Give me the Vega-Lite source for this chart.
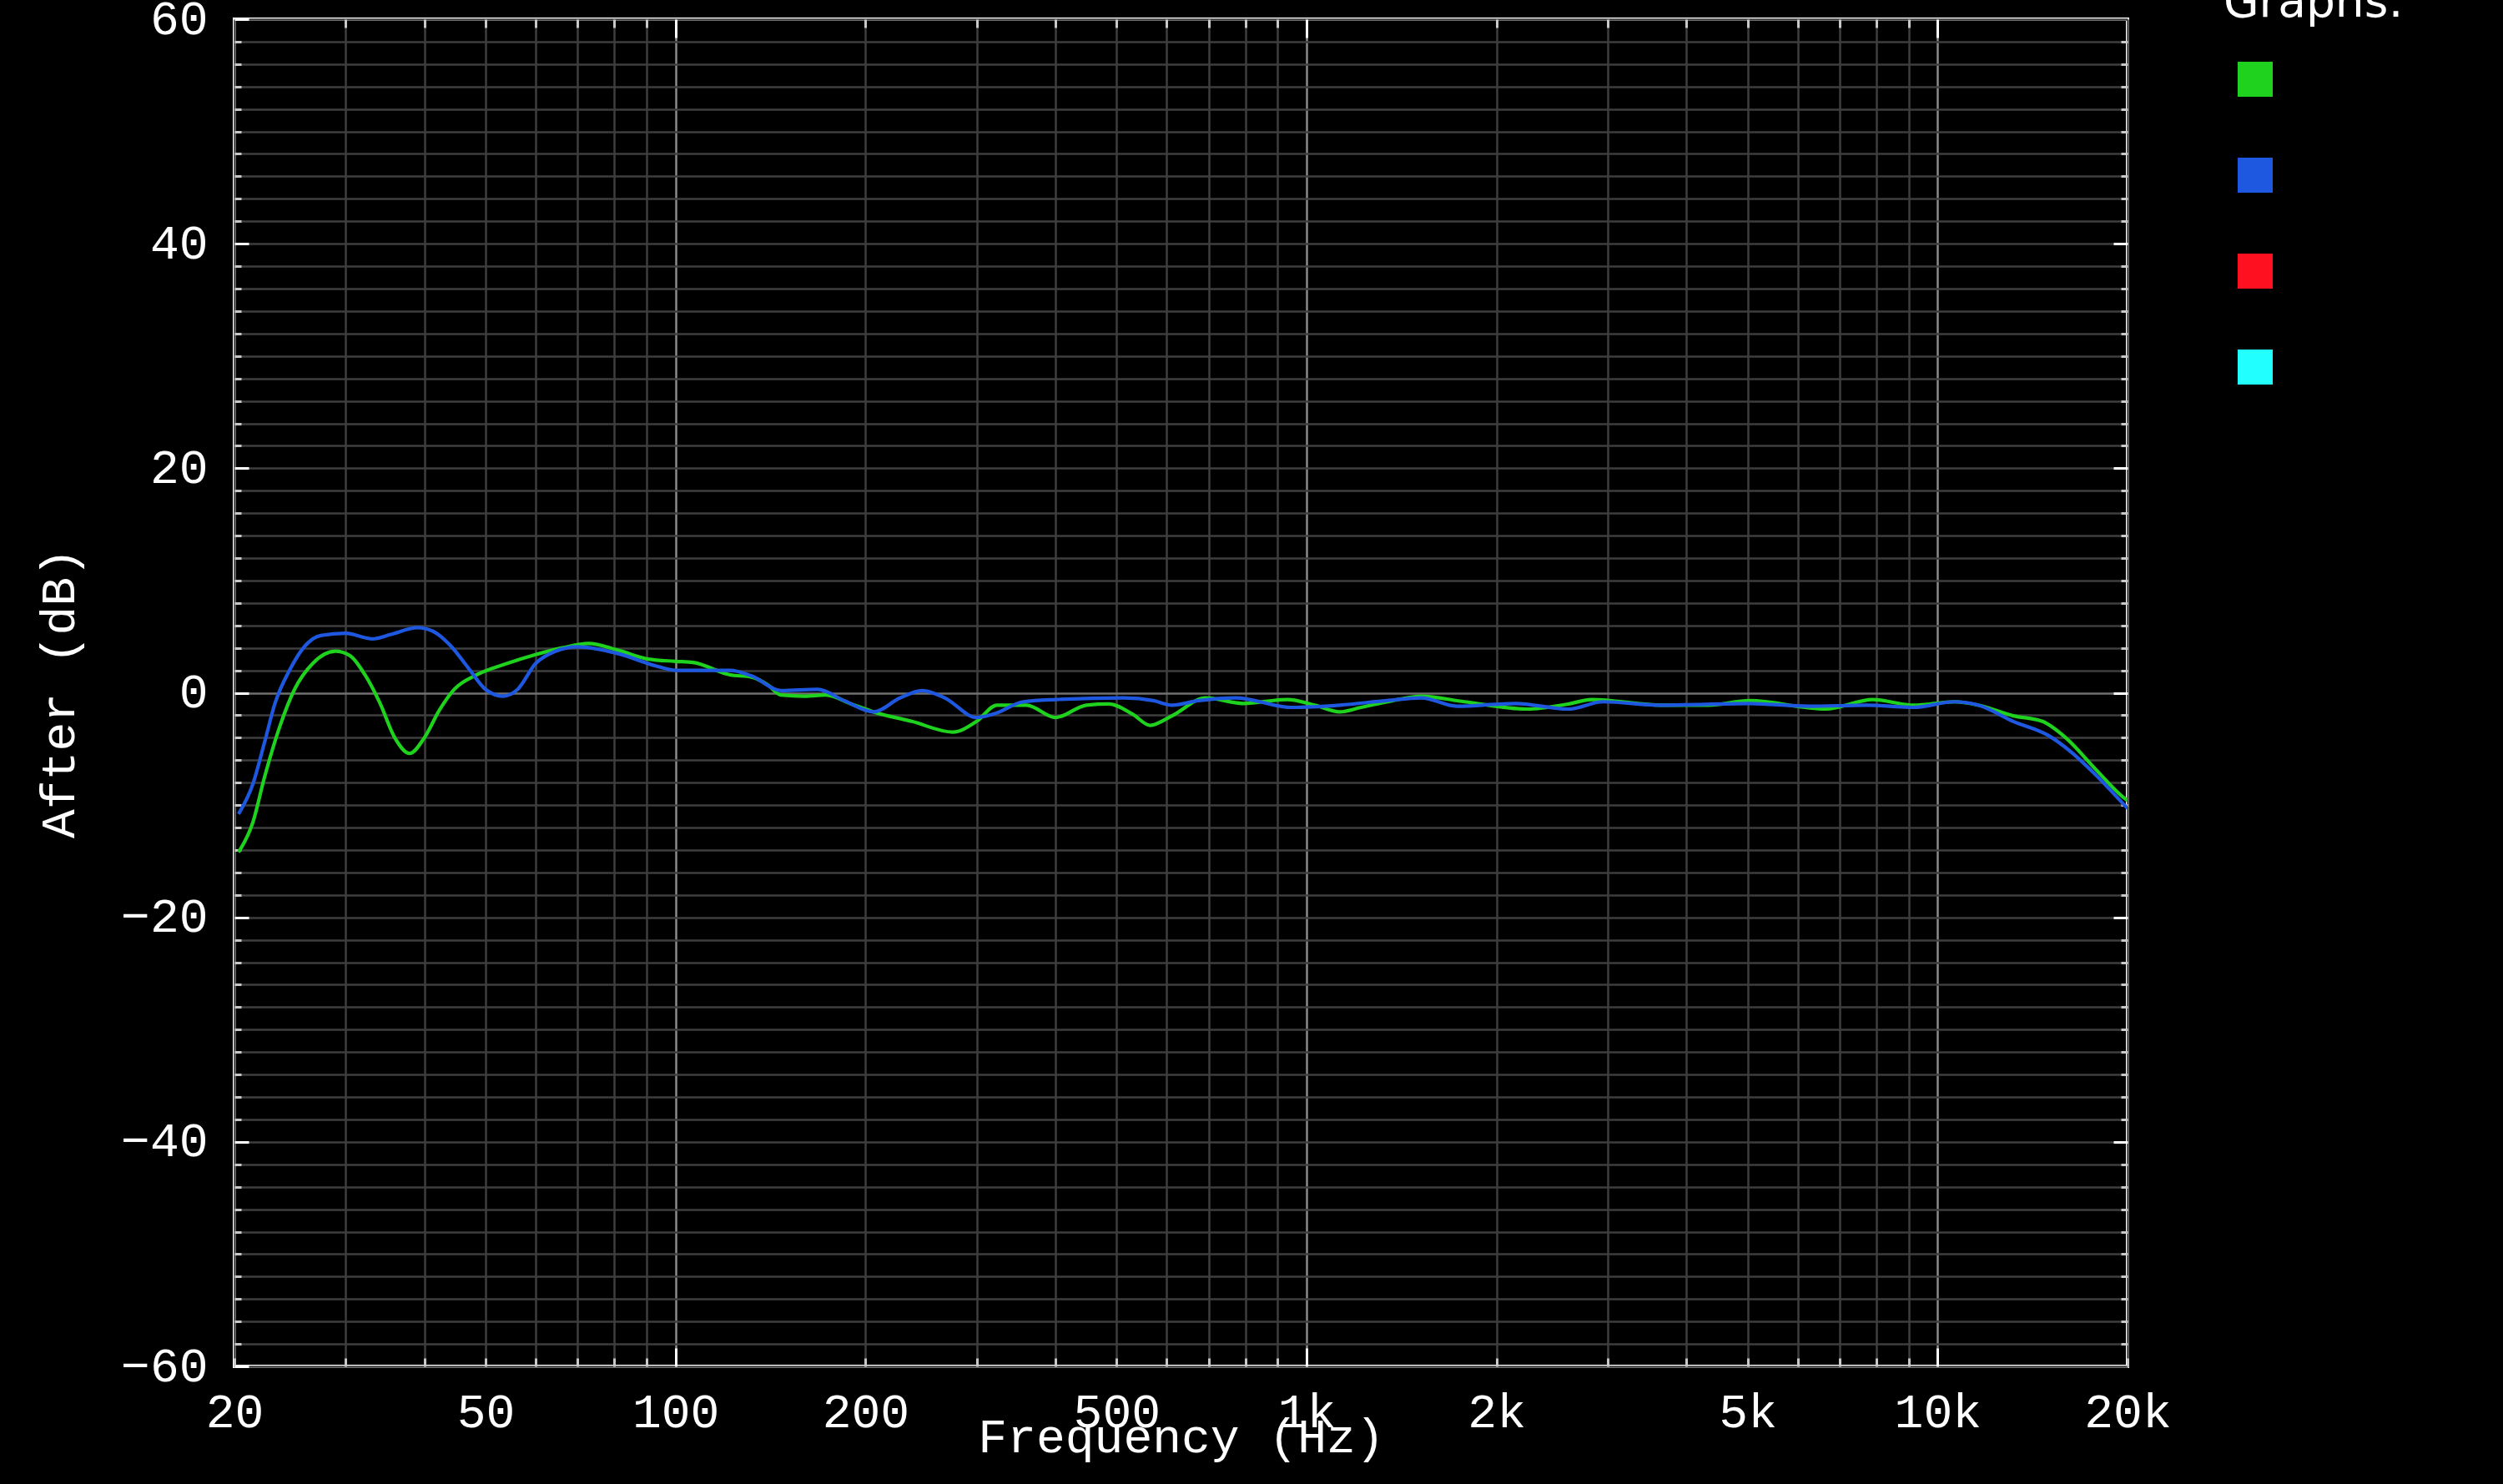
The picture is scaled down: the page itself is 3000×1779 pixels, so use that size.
{
  "$schema": "https://vega.github.io/schema/vega-lite/v6.json",
  "width": 2269,
  "height": 1615,
  "autosize": {"type": "none"},
  "padding": {"left": 281, "top": 23, "right": 450, "bottom": 141},
  "background": "#000000",
  "config": {
    "view": {"stroke": "#ffffff", "strokeWidth": 4, "fill": "#000000"},
    "axis": {
      "labelFont": "Liberation Mono",
      "titleFont": "Liberation Mono",
      "labelColor": "#ffffff",
      "titleColor": "#ffffff",
      "labelFontSize": 58,
      "titleFontSize": 58,
      "titleFontWeight": "normal",
      "domain": false,
      "labelFlush": false,
      "labelOverlap": false,
      "labelBound": false,
      "tickWidth": 3
    }
  },
  "datasets": {
    "g1": [
      {"series": "Graph 1", "f": 20.3, "db": -14.2},
      {"series": "Graph 1", "f": 21.4, "db": -11.5},
      {"series": "Graph 1", "f": 22.3, "db": -7.6},
      {"series": "Graph 1", "f": 23.6, "db": -3.0},
      {"series": "Graph 1", "f": 24.9, "db": 0.3},
      {"series": "Graph 1", "f": 26.6, "db": 2.6},
      {"series": "Graph 1", "f": 28.9, "db": 3.7},
      {"series": "Graph 1", "f": 30.5, "db": 3.3},
      {"series": "Graph 1", "f": 32.2, "db": 1.6},
      {"series": "Graph 1", "f": 34.0, "db": -0.9},
      {"series": "Graph 1", "f": 35.9, "db": -4.0},
      {"series": "Graph 1", "f": 37.9, "db": -5.4},
      {"series": "Graph 1", "f": 40.0, "db": -4.0},
      {"series": "Graph 1", "f": 42.3, "db": -1.5},
      {"series": "Graph 1", "f": 44.6, "db": 0.3},
      {"series": "Graph 1", "f": 48.4, "db": 1.6},
      {"series": "Graph 1", "f": 54, "db": 2.6},
      {"series": "Graph 1", "f": 60, "db": 3.4},
      {"series": "Graph 1", "f": 66.2, "db": 4.0},
      {"series": "Graph 1", "f": 72.8, "db": 4.4},
      {"series": "Graph 1", "f": 81, "db": 3.8},
      {"series": "Graph 1", "f": 90.5, "db": 3.0},
      {"series": "Graph 1", "f": 100, "db": 2.8},
      {"series": "Graph 1", "f": 106.6, "db": 2.7},
      {"series": "Graph 1", "f": 122, "db": 1.6},
      {"series": "Graph 1", "f": 132, "db": 1.4},
      {"series": "Graph 1", "f": 140, "db": 0.7},
      {"series": "Graph 1", "f": 147, "db": -0.2},
      {"series": "Graph 1", "f": 160, "db": -0.3},
      {"series": "Graph 1", "f": 173, "db": -0.2},
      {"series": "Graph 1", "f": 190, "db": -1.0},
      {"series": "Graph 1", "f": 206, "db": -1.7},
      {"series": "Graph 1", "f": 237, "db": -2.55},
      {"series": "Graph 1", "f": 275, "db": -3.5},
      {"series": "Graph 1", "f": 300, "db": -2.55},
      {"series": "Graph 1", "f": 323, "db": -1.1},
      {"series": "Graph 1", "f": 360, "db": -1.1},
      {"series": "Graph 1", "f": 400, "db": -2.2},
      {"series": "Graph 1", "f": 448, "db": -1.1},
      {"series": "Graph 1", "f": 486, "db": -1.0},
      {"series": "Graph 1", "f": 530, "db": -1.9},
      {"series": "Graph 1", "f": 565, "db": -2.9},
      {"series": "Graph 1", "f": 612, "db": -2.05},
      {"series": "Graph 1", "f": 692, "db": -0.45},
      {"series": "Graph 1", "f": 793, "db": -0.95},
      {"series": "Graph 1", "f": 933, "db": -0.6},
      {"series": "Graph 1", "f": 1030, "db": -1.1},
      {"series": "Graph 1", "f": 1128, "db": -1.7},
      {"series": "Graph 1", "f": 1220, "db": -1.3},
      {"series": "Graph 1", "f": 1370, "db": -0.7},
      {"series": "Graph 1", "f": 1520, "db": -0.3},
      {"series": "Graph 1", "f": 1780, "db": -0.8},
      {"series": "Graph 1", "f": 2237, "db": -1.45},
      {"series": "Graph 1", "f": 2598, "db": -1.0},
      {"series": "Graph 1", "f": 2830, "db": -0.6},
      {"series": "Graph 1", "f": 3656, "db": -1.1},
      {"series": "Graph 1", "f": 4336, "db": -1.1},
      {"series": "Graph 1", "f": 5032, "db": -0.7},
      {"series": "Graph 1", "f": 6650, "db": -1.45},
      {"series": "Graph 1", "f": 7890, "db": -0.6},
      {"series": "Graph 1", "f": 9163, "db": -1.1},
      {"series": "Graph 1", "f": 10640, "db": -0.8},
      {"series": "Graph 1", "f": 11600, "db": -1.1},
      {"series": "Graph 1", "f": 13180, "db": -2.05},
      {"series": "Graph 1", "f": 14660, "db": -2.55},
      {"series": "Graph 1", "f": 15960, "db": -4.0},
      {"series": "Graph 1", "f": 17760, "db": -6.75},
      {"series": "Graph 1", "f": 19590, "db": -9.2},
      {"series": "Graph 1", "f": 20000, "db": -9.6}
    ],
    "g2": [
      {"series": "Graph 2", "f": 20.3, "db": -10.8},
      {"series": "Graph 2", "f": 21.4, "db": -8.1},
      {"series": "Graph 2", "f": 22.3, "db": -4.5},
      {"series": "Graph 2", "f": 23.2, "db": -0.9},
      {"series": "Graph 2", "f": 24.5, "db": 2.1},
      {"series": "Graph 2", "f": 25.9, "db": 4.2},
      {"series": "Graph 2", "f": 27.4, "db": 5.1},
      {"series": "Graph 2", "f": 30, "db": 5.3},
      {"series": "Graph 2", "f": 33.1, "db": 4.8},
      {"series": "Graph 2", "f": 35.4, "db": 5.2},
      {"series": "Graph 2", "f": 39, "db": 5.8},
      {"series": "Graph 2", "f": 41.2, "db": 5.5},
      {"series": "Graph 2", "f": 44, "db": 4.2},
      {"series": "Graph 2", "f": 47.1, "db": 2.1},
      {"series": "Graph 2", "f": 50, "db": 0.3},
      {"series": "Graph 2", "f": 53.3, "db": -0.3},
      {"series": "Graph 2", "f": 56.2, "db": 0.3},
      {"series": "Graph 2", "f": 60, "db": 2.6},
      {"series": "Graph 2", "f": 64.5, "db": 3.7},
      {"series": "Graph 2", "f": 70, "db": 4.1},
      {"series": "Graph 2", "f": 81, "db": 3.5},
      {"series": "Graph 2", "f": 93, "db": 2.4},
      {"series": "Graph 2", "f": 100, "db": 2.0},
      {"series": "Graph 2", "f": 122, "db": 2.0},
      {"series": "Graph 2", "f": 132, "db": 1.5},
      {"series": "Graph 2", "f": 147, "db": 0.2},
      {"series": "Graph 2", "f": 168, "db": 0.3},
      {"series": "Graph 2", "f": 185, "db": -0.7},
      {"series": "Graph 2", "f": 206, "db": -1.7},
      {"series": "Graph 2", "f": 227, "db": -0.45},
      {"series": "Graph 2", "f": 246, "db": 0.2},
      {"series": "Graph 2", "f": 267, "db": -0.45},
      {"series": "Graph 2", "f": 300, "db": -2.2},
      {"series": "Graph 2", "f": 319, "db": -1.9},
      {"series": "Graph 2", "f": 356, "db": -0.8},
      {"series": "Graph 2", "f": 400, "db": -0.6},
      {"series": "Graph 2", "f": 513, "db": -0.45},
      {"series": "Graph 2", "f": 572, "db": -0.7},
      {"series": "Graph 2", "f": 612, "db": -1.1},
      {"series": "Graph 2", "f": 674, "db": -0.7},
      {"series": "Graph 2", "f": 772, "db": -0.45},
      {"series": "Graph 2", "f": 946, "db": -1.3},
      {"series": "Graph 2", "f": 1128, "db": -1.1},
      {"series": "Graph 2", "f": 1338, "db": -0.7},
      {"series": "Graph 2", "f": 1520, "db": -0.45},
      {"series": "Graph 2", "f": 1730, "db": -1.2},
      {"series": "Graph 2", "f": 2144, "db": -0.95},
      {"series": "Graph 2", "f": 2598, "db": -1.45},
      {"series": "Graph 2", "f": 2951, "db": -0.8},
      {"series": "Graph 2", "f": 3656, "db": -1.1},
      {"series": "Graph 2", "f": 5032, "db": -0.95},
      {"series": "Graph 2", "f": 6238, "db": -1.2},
      {"series": "Graph 2", "f": 7727, "db": -1.1},
      {"series": "Graph 2", "f": 9163, "db": -1.3},
      {"series": "Graph 2", "f": 10640, "db": -0.8},
      {"series": "Graph 2", "f": 11596, "db": -1.1},
      {"series": "Graph 2", "f": 13180, "db": -2.55},
      {"series": "Graph 2", "f": 14980, "db": -3.8},
      {"series": "Graph 2", "f": 16300, "db": -5.3},
      {"series": "Graph 2", "f": 17760, "db": -7.25},
      {"series": "Graph 2", "f": 19770, "db": -10.0},
      {"series": "Graph 2", "f": 20000, "db": -10.3}
    ]
  },
  "layer": [
    {
      "data": {"name": "g1"},
      "mark": {"type": "line", "interpolate": "monotone", "strokeWidth": 4.2, "clip": true},
      "encoding": {
        "x": {
          "field": "f",
          "type": "quantitative",
          "scale": {"type": "log", "domain": [20, 20000], "nice": false},
          "axis": {
            "orient": "bottom",
            "title": "Frequency (Hz)",
            "titlePadding": -28,
            "values": [20, 30, 40, 50, 60, 70, 80, 90, 100, 200, 300, 400, 500, 600, 700, 800, 900, 1000, 2000, 3000, 4000, 5000, 6000, 7000, 8000, 9000, 10000, 20000],
            "labelExpr": "indexof([20, 50, 100, 200, 500, 1000, 2000, 5000, 10000, 20000], datum.value) >= 0 ? (datum.value >= 1000 ? (datum.value / 1000) + 'k' : datum.value + '') : ''",
            "grid": true,
            "gridWidth": 2.5,
            "gridColor": {"condition": {"test": "datum.value === 100 || datum.value === 1000 || datum.value === 10000", "value": "#8a8a8a"}, "value": "#3e3e3e"},
            "tickColor": {"condition": {"test": "datum.value === 100 || datum.value === 1000 || datum.value === 10000", "value": "#ffffff"}, "value": "#c8c8c8"},
            "tickSize": {"condition": {"test": "datum.value === 100 || datum.value === 1000 || datum.value === 10000", "value": -22}, "value": -10},
            "labelPadding": {"condition": {"test": "datum.value === 100 || datum.value === 1000 || datum.value === 10000", "value": 48}, "value": 36}
          }
        },
        "y": {
          "field": "db",
          "type": "quantitative",
          "scale": {"domain": [-60, 60], "nice": false},
          "axis": {
            "orient": "left",
            "title": "After (dB)",
            "titlePadding": 44,
            "values": [-60, -58, -56, -54, -52, -50, -48, -46, -44, -42, -40, -38, -36, -34, -32, -30, -28, -26, -24, -22, -20, -18, -16, -14, -12, -10, -8, -6, -4, -2, 0, 2, 4, 6, 8, 10, 12, 14, 16, 18, 20, 22, 24, 26, 28, 30, 32, 34, 36, 38, 40, 42, 44, 46, 48, 50, 52, 54, 56, 58, 60],
            "labelExpr": "datum.value % 20 === 0 ? datum.label : ''",
            "grid": true,
            "gridWidth": 2.5,
            "gridColor": {"condition": {"test": "datum.value === 0", "value": "#707070"}, "value": "#3e3e3e"},
            "tickColor": {"condition": {"test": "datum.value % 20 === 0", "value": "#ffffff"}, "value": "#c8c8c8"},
            "tickSize": {"condition": {"test": "datum.value % 20 === 0", "value": -17}, "value": -8},
            "labelPadding": 49
          }
        },
        "color": {
          "field": "series",
          "type": "nominal",
          "scale": {"domain": ["Graph 1", "Graph 2", "Graph 3", "Graph 4"], "range": ["#1ed21e", "#1f58e0", "#ff1020", "#22ffff"]},
          "legend": {
            "orient": "none",
            "legendX": 2384,
            "legendY": -46,
            "title": "Graphs:",
            "titleFont": "DejaVu Sans",
            "titleFontSize": 55,
            "titleFontWeight": "normal",
            "titleColor": "#ffffff",
            "titleLimit": 2000,
            "titlePadding": 42,
            "symbolType": "square",
            "symbolSize": 1764,
            "symbolStrokeWidth": 0,
            "symbolOffset": 17,
            "rowPadding": 73,
            "labelExpr": "''",
            "labelFontSize": 10,
            "encode": {"symbols": {"update": {"fill": {"scale": "color", "field": "value"}, "fillOpacity": {"value": 1}, "opacity": {"value": 1}}}}
          }
        }
      }
    },
    {
      "data": {"name": "g2"},
      "mark": {"type": "line", "interpolate": "monotone", "strokeWidth": 4.2, "clip": true},
      "encoding": {
        "x": {
          "field": "f",
          "type": "quantitative",
          "axis": {
            "orient": "top",
            "title": null,
            "labels": false,
            "grid": false,
            "values": [30, 40, 50, 60, 70, 80, 90, 100, 200, 300, 400, 500, 600, 700, 800, 900, 1000, 2000, 3000, 4000, 5000, 6000, 7000, 8000, 9000, 10000],
            "tickColor": {"condition": {"test": "datum.value === 100 || datum.value === 1000 || datum.value === 10000", "value": "#ffffff"}, "value": "#c8c8c8"},
            "tickSize": {"condition": {"test": "datum.value === 100 || datum.value === 1000 || datum.value === 10000", "value": -22}, "value": -10}
          }
        },
        "y": {
          "field": "db",
          "type": "quantitative",
          "axis": {
            "orient": "right",
            "title": null,
            "labels": false,
            "grid": false,
            "values": [-58, -56, -54, -52, -50, -48, -46, -44, -42, -40, -38, -36, -34, -32, -30, -28, -26, -24, -22, -20, -18, -16, -14, -12, -10, -8, -6, -4, -2, 0, 2, 4, 6, 8, 10, 12, 14, 16, 18, 20, 22, 24, 26, 28, 30, 32, 34, 36, 38, 40, 42, 44, 46, 48, 50, 52, 54, 56, 58],
            "tickColor": {"condition": {"test": "datum.value % 20 === 0", "value": "#ffffff"}, "value": "#c8c8c8"},
            "tickSize": {"condition": {"test": "datum.value % 20 === 0", "value": -17}, "value": -8}
          }
        },
        "color": {"field": "series", "type": "nominal"}
      }
    }
  ],
  "resolve": {"axis": {"x": "independent", "y": "independent"}}
}
